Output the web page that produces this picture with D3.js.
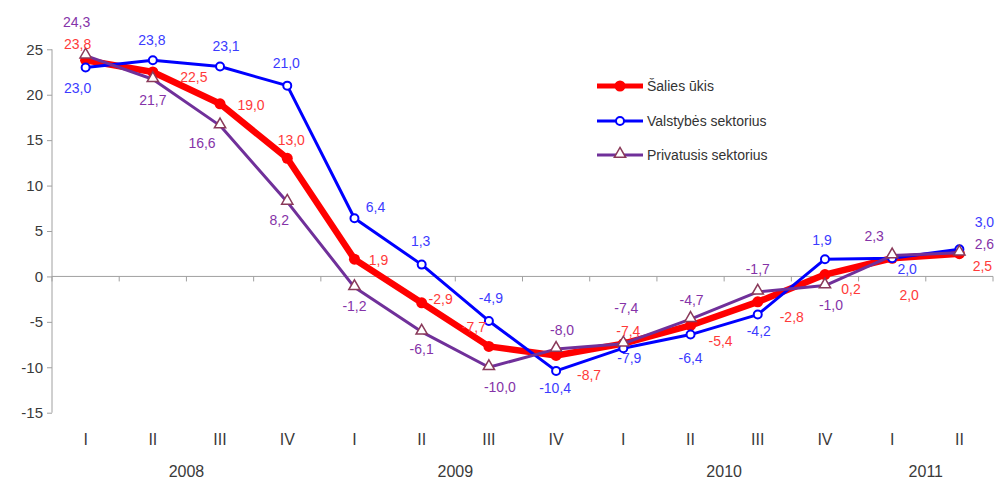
<!DOCTYPE html>
<html><head><meta charset="utf-8">
<script src="https://cdn.jsdelivr.net/npm/d3@7"></script>
<style>body{margin:0;background:#fff}svg{display:block}</style>
</head><body>
<svg id="c" width="1000" height="480"></svg>
<script>
const quarters = ["I","II","III","IV","I","II","III","IV","I","II","III","IV","I","II"];
const years = ["2008","2009","2010","2011"];
const yearSpans = [[0,3],[4,7],[8,11],[12,13]];
const yTicks = [25,20,15,10,5,0,-5,-10,-15];
const seriesNames = ["Šalies ūkis","Valstybės sektorius","Privatusis sektorius"];
const salies = [23.8,22.5,19.0,13.0,1.9,-2.9,-7.7,-8.7,-7.4,-5.4,-2.8,0.2,2.0,2.5];
const valstybes = [23.0,23.8,23.1,21.0,6.4,1.3,-4.9,-10.4,-7.9,-6.4,-4.2,1.9,2.0,3.0];
const privatus = [24.3,21.7,16.6,8.2,-1.2,-6.1,-10.0,-8.0,-7.4,-4.7,-1.7,-1.0,2.3,2.6];

// label placement (layout only)
const offRed = [[-8,-16],[41,5],[31,1],[4,-18],[24,1],[19,-4],[-15,-19],[33,20],[5,-13],[30,16],[34,15],[26,14],[17,37],[23,12]];
const offBlue = [[-8,21],[-1,-20],[6,-21],[-1,-23],[21,-11],[-1,-24],[2,-23],[-1,17],[6,10],[0,23],[1,16],[-3,-19],[15,11],[25,-27]];
const offPurple = [[-9,-34],[0,21],[-18,17],[-8,18],[0,19],[0,17],[11,20],[6,-19],[3,-36],[1,-19],[0,-23],[6,19],[-18,-20],[25,-9]];

const svg = d3.select("#c");
const idx = d3.range(quarters.length);
const x = d3.scaleBand().domain(idx).range([52,993]);
const y = d3.scaleLinear().domain([-15,25]).range([412.7,49.3]);
const cx = i => x(i) + x.bandwidth()/2;
const font = "Liberation Sans, Arial, sans-serif";
const fmtLabel = d => d3.format(".1f")(d).replace(".",",").replace("\u2212","-");

// y axis
const ya = svg.append("g").attr("transform","translate(52,0)")
  .call(d3.axisLeft(y).tickValues(yTicks).tickSize(5).tickPadding(4).tickFormat(d=>String(d)));
ya.select(".domain").attr("stroke","#a0a0a0").attr("d","M0,"+y(-15)+"V"+y(25));
ya.selectAll(".tick line").attr("stroke","#a0a0a0");
ya.selectAll(".tick text").attr("font-family",font).attr("font-size",15).attr("fill","#3a3a3a");

// x axis at zero
const xa = svg.append("g").attr("transform","translate(0,"+y(0)+")");
xa.append("line").attr("x1",52).attr("x2",993).attr("stroke","#a0a0a0");
xa.selectAll("line.t").data(d3.range(quarters.length+1)).join("line")
  .attr("x1",d=>52+d*x.step()).attr("x2",d=>52+d*x.step()).attr("y1",0).attr("y2",5).attr("stroke","#a0a0a0");

svg.append("g").selectAll("text").data(quarters).join("text")
  .attr("x",(d,i)=>cx(i)).attr("y",445).attr("text-anchor","middle")
  .attr("font-family",font).attr("font-size",16).attr("fill","#3a3a3a").text(d=>d);
svg.append("g").selectAll("text").data(years).join("text")
  .attr("x",(d,i)=>(cx(yearSpans[i][0])+cx(yearSpans[i][1]))/2).attr("y",477).attr("text-anchor","middle")
  .attr("font-family",font).attr("font-size",16).attr("fill","#3a3a3a").text(d=>d);

const line = d3.line().x((d,i)=>cx(i)).y(d=>y(d));
const series = [
  {vals:salies, color:"#ff0000", lw:6.5, label:"#ff3a3a", off:offRed, marker:"dot"},
  {vals:valstybes, color:"#0000ff", lw:3, label:"#3b3bff", off:offBlue, marker:"circle"},
  {vals:privatus, color:"#70309a", lw:3, label:"#8533a8", off:offPurple, marker:"tri"}
];
const tri = d3.symbol().type(d3.symbolTriangle).size(55);

function marker(g, s, px, py){
  if(s.marker==="dot") g.append("circle").attr("cx",px).attr("cy",py).attr("r",5.5).attr("fill",s.color);
  else if(s.marker==="circle") g.append("circle").attr("cx",px).attr("cy",py).attr("r",4).attr("fill","#fff").attr("stroke",s.color).attr("stroke-width",2);
  else g.append("path").attr("d",tri).attr("transform","translate("+px+","+(py-1)+")").attr("fill","#fff").attr("stroke","#8a3a5a").attr("stroke-width",1.5);
}

series.forEach(s=>{
  const g = svg.append("g");
  g.append("path").datum(s.vals).attr("d",line).attr("fill","none").attr("stroke",s.color)
    .attr("stroke-width",s.lw).attr("stroke-linejoin","round");
  s.vals.forEach((v,i)=>marker(g,s,cx(i),y(v)));
});
series.forEach(s=>{
  svg.append("g").selectAll("text").data(s.vals).join("text")
    .attr("x",(d,i)=>cx(i)+s.off[i][0]).attr("y",(d,i)=>y(d)+s.off[i][1])
    .attr("text-anchor","middle").attr("dominant-baseline","central")
    .attr("font-family",font).attr("font-size",14).attr("fill",s.label)
    .text(fmtLabel);
});

// legend
const lg = svg.append("g");
const ly = [86,121,155];
series.forEach((s,i)=>{
  lg.append("line").attr("x1",597).attr("x2",643).attr("y1",ly[i]).attr("y2",ly[i]).attr("stroke",s.color).attr("stroke-width",s.lw>5?5:3);
  marker(lg,s,620,ly[i]);
  lg.append("text").attr("x",647).attr("y",ly[i]).attr("dominant-baseline","central")
    .attr("font-family",font).attr("font-size",14).attr("fill","#333").text(seriesNames[i]);
});
</script>
</body></html>
